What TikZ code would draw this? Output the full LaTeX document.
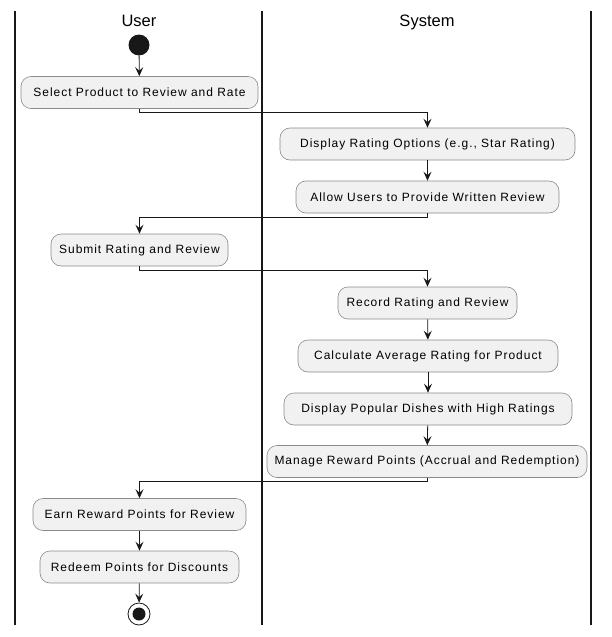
\documentclass[tikz,border=0pt]{standalone}
\usepackage{fontspec}
\setmainfont{Liberation Sans}
\usetikzlibrary{arrows.meta}
\definecolor{lineC}{HTML}{181818}
\definecolor{fillC}{HTML}{F1F1F1}
\definecolor{borderC}{HTML}{8A8A8A}
\newfontfamily\actfont[LetterSpace=8]{Liberation Sans}
\tikzset{
  x=1pt, y=-1pt,
  act/.style={draw=borderC, fill=fillC, line width=0.6pt, rounded corners=10pt,
    minimum height=32pt, inner xsep=6pt, font=\actfont\fontsize{12}{14}\selectfont},
  arr/.style={draw=lineC, line width=0.8pt, -{Stealth[length=9pt,width=8pt,inset=3.5pt]}},
  lane/.style={draw=lineC, line width=1.5pt},
  lanetitle/.style={font=\fontsize{16.5}{18}\selectfont, anchor=base},
  startnode/.style={circle, fill=lineC, minimum size=21pt, inner sep=0pt},
  endnode/.style={circle, draw=lineC, line width=0.8pt, fill=white, minimum size=22pt, inner sep=0pt},
  endin/.style={circle, fill=lineC, minimum size=13pt, inner sep=0pt}
}
\begin{document}
\begin{tikzpicture}
\useasboundingbox (0,0) rectangle (612,637);
% lanes
\coordinate (l1t) at (15,11); \coordinate (l1b) at (15,625);
\coordinate (l2t) at (262,11); \coordinate (l2b) at (262,625);
\coordinate (l3t) at (591,11); \coordinate (l3b) at (591,625);
\draw[lane] (l1t) -- (l1b);
\draw[lane] (l2t) -- (l2b);
\draw[lane] (l3t) -- (l3b);
\node[lanetitle] (tUser) at (139,27) {User};
\node[lanetitle] (tSys) at (427,27) {System};
% nodes
\node[startnode] (start) at (139,45) {};
\node[act, minimum width=237pt] (n1) at (139.5,92.5) {Select Product to Review and Rate};
\node[act, minimum width=295pt] (n2) at (427.5,144) {Display Rating Options (e.g., Star Rating)};
\node[act, minimum width=263pt] (n3) at (427.5,197) {Allow Users to Provide Written Review};
\node[act, minimum width=177pt] (n4) at (139.5,250) {Submit Rating and Review};
\node[act, minimum width=179pt] (n5) at (427.5,303) {Record Rating and Review};
\node[act, minimum width=260pt] (n6) at (428,356) {Calculate Average Rating for Product};
\node[act, minimum width=288pt] (n7) at (428,409) {Display Popular Dishes with High Ratings};
\node[act, minimum width=320pt] (n8) at (427,461.5) {Manage Reward Points (Accrual and Redemption)};
\node[act, minimum width=213pt] (n9) at (139.5,514.5) {Earn Reward Points for Review};
\node[act, minimum width=199pt] (n10) at (139.5,567) {Redeem Points for Discounts};
\node[endnode] (end) at (139,614) {};
\node[endin] (endi) at (end) {};
% connectors
\draw[arr] (start) -- (n1);
\draw[arr] (n1.south) -- ++(0,4) -| (n2.north);
\draw[arr] (n2) -- (n3);
\draw[arr] (n3.south) -- ++(0,4) -| (n4.north);
\draw[arr] (n4.south) -- ++(0,4) -| (n5.north);
\draw[arr] (n5) -- (n6);
\draw[arr] (n6) -- (n7);
\draw[arr] (n7) -- (n8);
\draw[arr] (n8.south) -- ++(0,4) -| (n9.north);
\draw[arr] (n9) -- (n10);
\draw[arr] (n10) -- (end);
\end{tikzpicture}
\end{document}
